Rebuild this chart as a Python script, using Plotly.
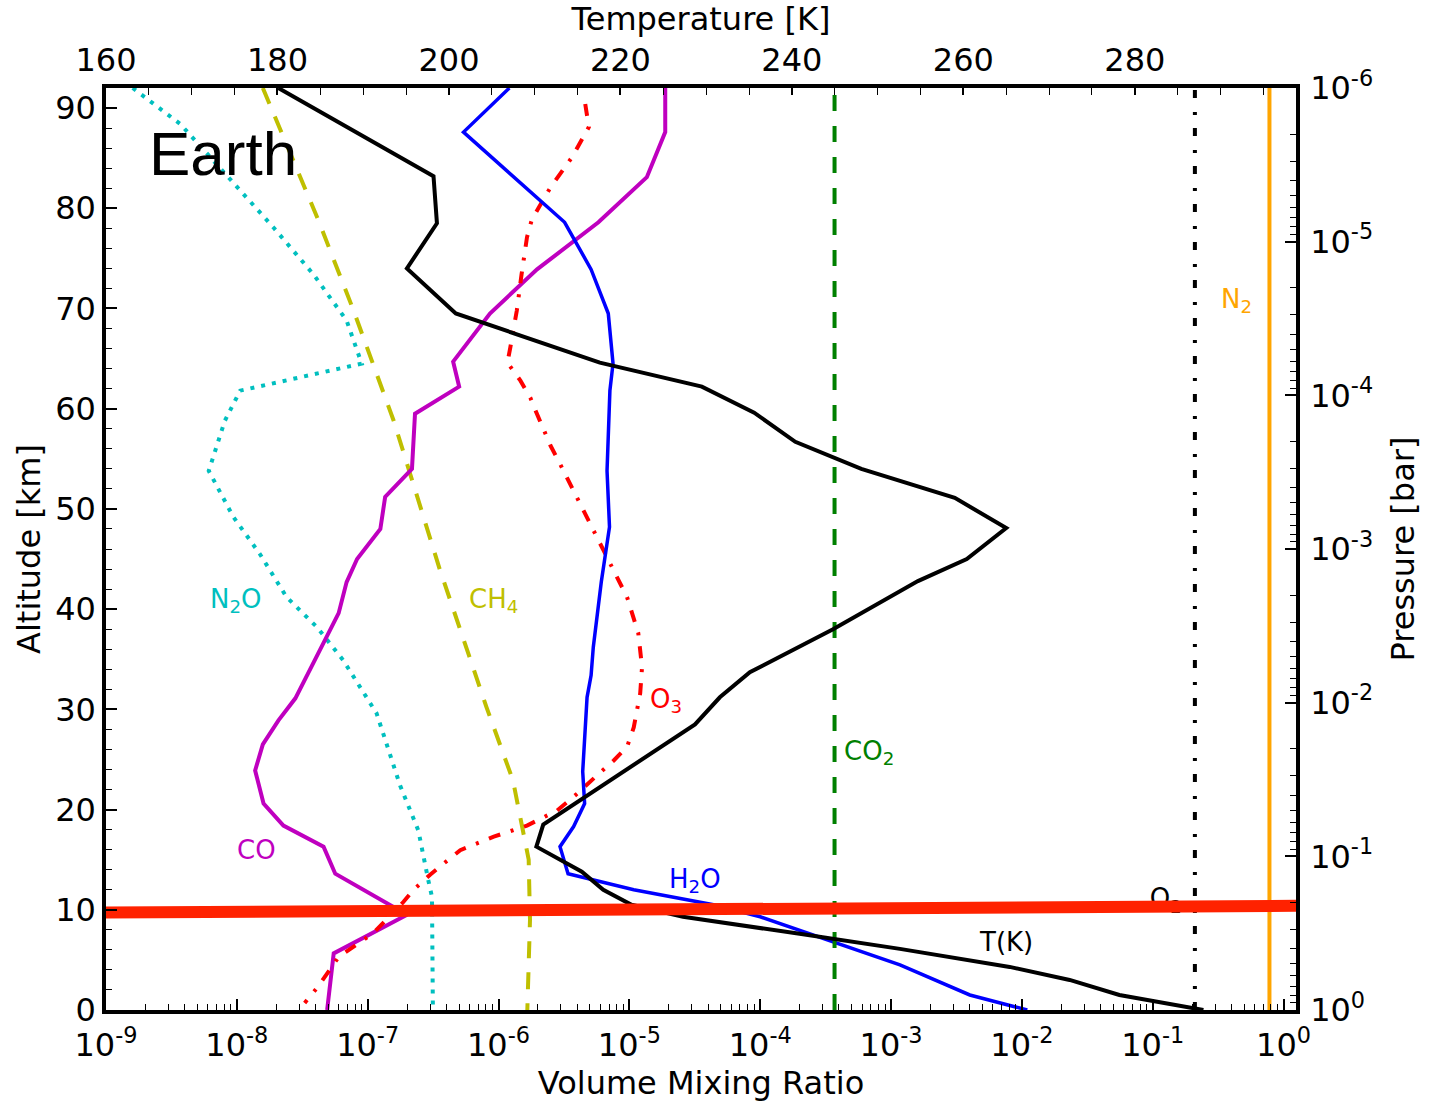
import plotly.graph_objects as go

# ---------------- data ----------------
# Temperature profile (altitude km, temperature K)
t_alt = [92.0, 83.2, 78.5, 74.0, 69.5, 64.6, 62.2, 59.6, 56.7, 54.0, 51.1, 48.1, 45.0, 42.8,
         38.0, 33.7, 31.2, 28.5, 18.5, 16.3, 13.8, 12.0, 10.5, 9.3, 7.6, 6.1, 4.3, 3.0, 1.5, 0.7, 0.0]
t_K = [180.1, 198.2, 198.6, 195.1, 200.8, 217.6, 229.5, 235.6, 240.4, 248.1, 259.0, 265.0, 260.4, 254.7,
       244.8, 235.1, 231.6, 228.7, 211.0, 210.2, 215.5, 218.0, 221.3, 227.3, 240.9, 252.6, 265.4, 272.4, 278.2, 283.3, 288.0]

# H2O
h2o_alt = [92.0, 87.6, 78.6, 73.9, 69.5, 64.5, 61.8, 53.8, 48.2, 42.7, 36.2, 33.4, 31.2, 23.8, 20.6,
           18.3, 16.3, 13.6, 12.0, 10.5, 9.3, 7.0, 4.5, 1.5, 0.0]
h2o_vmr = [1.21e-6, 5.4e-7, 3.2e-6, 5.1e-6, 6.9e-6, 7.5e-6, 7.1e-6, 6.75e-6, 7.05e-6, 6.1e-6, 5.3e-6,
           5.1e-6, 4.75e-6, 4.4e-6, 4.55e-6, 3.75e-6, 2.95e-6, 3.4e-6, 1.08e-5, 4.4e-5, 1.0e-4, 3.2e-4,
           1.17e-3, 4.0e-3, 1.1e-2]

# O3
o3_alt = [90.4, 88.1, 85.1, 82.1, 78.9, 77.1, 73.4, 69.8, 66.1, 64.6, 62.8, 61.1, 59.6, 56.3, 54.5,
          51.5, 47.9, 44.5, 41.2, 37.6, 34.2, 31.6, 28.2, 26.25, 24.9, 23.4, 21.6, 19.9, 18.4, 17.3,
          15.95, 14.6, 13.5, 12.0, 10.8, 7.65, 6.3, 5.3, 3.8, 2.2, 0.7]
o3_vmr = [4.6e-6, 4.9e-6, 3.65e-6, 2.5e-6, 1.8e-6, 1.65e-6, 1.5e-6, 1.38e-6, 1.23e-6, 1.17e-6, 1.47e-6,
          1.75e-6, 1.95e-6, 2.5e-6, 2.95e-6, 3.85e-6, 5.3e-6, 7.1e-6, 9.6e-6, 1.17e-5, 1.25e-5, 1.21e-5,
          1.08e-5, 9.6e-6, 7.6e-6, 5.65e-6, 4.0e-6, 2.8e-6, 1.65e-6, 9.2e-7, 5.1e-7, 3.8e-7, 3.0e-7,
          2.24e-7, 1.88e-7, 1.1e-7, 7.8e-8, 6.0e-8, 5.0e-8, 4.1e-8, 3.3e-8]

# CO
co_alt = [92.0, 87.6, 83.1, 78.6, 73.9, 69.5, 64.7, 62.2, 59.5, 54.0, 51.2, 48.0, 45.0, 42.7, 39.6,
          31.1, 28.9, 26.5, 23.9, 20.6, 18.4, 16.3, 13.6, 9.5, 5.65, 0.0]
co_vmr = [1.88e-5, 1.88e-5, 1.36e-5, 5.8e-6, 1.97e-6, 8.6e-7, 4.5e-7, 5.0e-7, 2.3e-7, 2.18e-7, 1.36e-7,
          1.25e-7, 8.3e-8, 6.9e-8, 6.0e-8, 2.8e-8, 2.08e-8, 1.58e-8, 1.38e-8, 1.6e-8, 2.27e-8, 4.6e-8,
          5.65e-8, 2.0e-7, 5.5e-8, 4.9e-8]

# N2O
n2o_alt = [92.0, 88.4, 83.25, 78.1, 73.4, 68.8, 64.5, 61.8, 58.8, 56.8, 53.8, 49.2, 45.5, 41.2, 38.2,
           34.9, 29.6, 22.4, 17.9, 13.0, 11.3, 0.0]
n2o_vmr = [1.6e-9, 3.7e-9, 8.4e-9, 1.9e-8, 3.85e-8, 6.9e-8, 9.0e-8, 1.06e-8, 8.1e-9, 7.2e-9, 6.1e-9,
           9.4e-9, 1.5e-8, 2.4e-8, 4.1e-8, 6.5e-8, 1.17e-7, 1.77e-7, 2.44e-7, 2.9e-7, 3.1e-7, 3.15e-7]

# CH4
ch4_alt = [92.0, 78.8, 69.8, 58.8, 44.0, 30.2, 22.9, 15.0, 9.0, 0.0]
ch4_vmr = [1.58e-8, 4.2e-8, 7.8e-8, 1.58e-7, 3.55e-7, 8.1e-7, 1.29e-6, 1.7e-6, 1.74e-6, 1.66e-6]

# well-mixed species
const_alt = [0.0, 92.0]
co2_vmr = [3.7e-4, 3.7e-4]
o2_vmr = [0.21, 0.21]
n2_vmr = [0.78, 0.78]

# tropopause marker (temperature-axis ends, altitude km)
trop_T = [160.0, 298.8]
trop_alt = [9.72, 10.39]

# axis ticks
vmr_ticks = [1e-9, 1e-8, 1e-7, 1e-6, 1e-5, 1e-4, 1e-3, 1e-2, 1e-1, 1e0]
vmr_ticktext = ["10<sup>-9</sup>", "10<sup>-8</sup>", "10<sup>-7</sup>", "10<sup>-6</sup>",
                "10<sup>-5</sup>", "10<sup>-4</sup>", "10<sup>-3</sup>", "10<sup>-2</sup>",
                "10<sup>-1</sup>", "10<sup>0</sup>"]
p_ticks = [1e0, 1e-1, 1e-2, 1e-3, 1e-4, 1e-5, 1e-6]
p_ticktext = ["10<sup>0</sup>", "10<sup>-1</sup>", "10<sup>-2</sup>", "10<sup>-3</sup>",
              "10<sup>-4</sup>", "10<sup>-5</sup>", "10<sup>-6</sup>"]
t_ticks = [160, 180, 200, 220, 240, 260, 280]
alt_ticks = [0, 10, 20, 30, 40, 50, 60, 70, 80, 90]

# ---------------- figure ----------------
LW = 4
fig = go.Figure()

def vline(x, y, color, dash, width=LW):
    fig.add_trace(go.Scatter(x=x, y=y, mode="lines", xaxis="x", yaxis="y",
                             line=dict(color=color, width=width, dash=dash),
                             hoverinfo="skip", showlegend=False))

vline(n2o_vmr, n2o_alt, "#00bfbf", "4px,7px")
vline(ch4_vmr, ch4_alt, "#bfbf00", "17px,14px")
vline(co_vmr, co_alt, "#bf00bf", "solid")
vline(o3_vmr, o3_alt, "#ff0000", "12px,11px,3px,11px")
vline(h2o_vmr, h2o_alt, "#0000ff", "solid", 3.5)
vline(co2_vmr, const_alt, "#008000", "16px,15px")
vline(o2_vmr, const_alt, "#000000", "8px,13px,3px,14px")
vline(n2_vmr, const_alt, "#ffa500", "solid")

# invisible trace to carry the pressure axis
fig.add_trace(go.Scatter(x=[1e-5], y=[1e-3], mode="markers", xaxis="x", yaxis="y2",
                         marker=dict(opacity=0), hoverinfo="skip", showlegend=False))

# temperature profile on top axis
fig.add_trace(go.Scatter(x=t_K, y=t_alt, mode="lines", xaxis="x2", yaxis="y",
                         line=dict(color="black", width=LW), hoverinfo="skip", showlegend=False))

# O2 label (lies under the tropopause marker)
fig.add_trace(go.Scatter(x=[283.6], y=[10.9], mode="text", xaxis="x2", yaxis="y",
                         text=["O<sub>2</sub>"], textfont=dict(size=26, color="black", family="DejaVu Sans"),
                         hoverinfo="skip", showlegend=False))

# tropopause marker
fig.add_trace(go.Scatter(x=trop_T, y=trop_alt, mode="lines", xaxis="x2", yaxis="y",
                         line=dict(color="#ff2200", width=12), hoverinfo="skip", showlegend=False))

# ---------------- labels ----------------
labels = [
    ("N<sub>2</sub>O", -8.009, 40.9, "#00bfbf"),
    ("CH<sub>4</sub>", -6.037, 40.9, "#bfbf00"),
    ("O<sub>3</sub>", -4.718, 30.9, "#ff0000"),
    ("CO<sub>2</sub>", -3.166, 25.7, "#008000"),
    ("H<sub>2</sub>O", -4.497, 12.9, "#0000ff"),
    ("CO", -7.852, 15.95, "#bf00bf"),
    ("T(K)", -2.118, 6.8, "#000000"),
    ("N<sub>2</sub>", -0.360, 70.8, "#ffa500"),
]
for txt, lx, ly, col in labels:
    fig.add_annotation(x=lx, y=ly, xref="x", yref="y", text=txt, showarrow=False,
                       font=dict(size=26, color=col, family="DejaVu Sans"),
                       xanchor="center", yanchor="middle")

fig.add_annotation(x=-8.105, y=85.5, xref="x", yref="y", text="Earth", showarrow=False,
                   font=dict(size=62, color="black", family="Liberation Sans, Arial"),
                   xanchor="center", yanchor="middle")

# ---------------- axes ----------------
TF = dict(size=32, color="black", family="DejaVu Sans")
vmr_minor = [m * 10.0 ** e for e in range(-9, 0) for m in range(2, 10)]
p_minor = [m * 10.0 ** e for e in range(-6, 0) for m in range(2, 10)]

fig.update_layout(
    width=1429, height=1102, autosize=False,
    margin=dict(l=106, r=133, t=88, b=92, pad=0),
    paper_bgcolor="white", plot_bgcolor="white", showlegend=False,
    font=dict(family="DejaVu Sans", color="black"),
    xaxis=dict(type="log", range=[-9, 0.095], tickmode="array", tickvals=vmr_ticks,
               ticktext=vmr_ticktext, ticks="inside", ticklen=11, tickwidth=1.5, tickcolor="black",
               minor=dict(tickmode="array", tickvals=vmr_minor, ticks="inside", ticklen=6,
                          tickwidth=1.2, tickcolor="black"),
               showline=True, linewidth=3.5, linecolor="black", showgrid=False, zeroline=False,
               tickfont=TF, ticklabelstandoff=4, automargin=False,
               title=dict(text="Volume Mixing Ratio", font=TF, standoff=10)),
    xaxis2=dict(overlaying="x", side="top", anchor="y", range=[160, 298.8], tickmode="array",
                tickvals=t_ticks, ticks="inside", ticklen=7, tickwidth=1.5, tickcolor="black",
                minor=dict(dtick=5, tick0=160, ticks="inside", ticklen=7, tickwidth=1.2, tickcolor="black"),
                showline=True, linewidth=3.5, linecolor="black", showgrid=False, zeroline=False,
                tickfont=TF, automargin=False,
                title=dict(text="Temperature [K]", font=TF, standoff=2)),
    yaxis=dict(range=[0, 92], tickmode="array", tickvals=alt_ticks, ticks="inside", ticklen=11,
               tickwidth=1.5, tickcolor="black",
               minor=dict(dtick=2, tick0=0, ticks="inside", ticklen=6, tickwidth=1.2, tickcolor="black"),
               showline=True, linewidth=3.5, linecolor="black", showgrid=False, zeroline=False,
               tickfont=TF, automargin=False,
               title=dict(text="Altitude [km]", font=TF, standoff=6)),
    yaxis2=dict(type="log", range=[0, -6], overlaying="y", side="right", anchor="x",
                tickmode="array", tickvals=p_ticks, ticktext=p_ticktext, ticks="inside", ticklen=11,
                tickwidth=1.5, tickcolor="black",
                minor=dict(tickmode="array", tickvals=p_minor, ticks="inside", ticklen=6,
                           tickwidth=1.2, tickcolor="black"),
                showline=True, linewidth=3.5, linecolor="black", showgrid=False, zeroline=False,
                tickfont=TF, ticklabelstandoff=4, automargin=False,
                title=dict(text="Pressure [bar]", font=TF, standoff=20)),
)

fig.write_html("out.html")
